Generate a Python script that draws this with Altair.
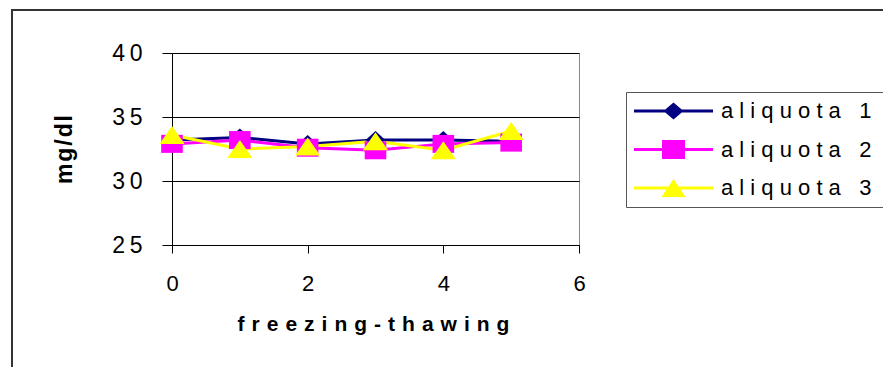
import altair as alt
import pandas as pd

# ---- data ----
cycles = [0, 1, 2, 3, 4, 5]
series_names = ["aliquota 1", "aliquota 2", "aliquota 3"]
aliquota_1 = [33.2, 33.4, 32.9, 33.2, 33.2, 33.1]
aliquota_2 = [32.9, 33.2, 32.6, 32.4, 32.9, 33.0]
aliquota_3 = [33.6, 32.5, 32.7, 33.1, 32.4, 33.9]
series_colors = ["#000080", "#FF00FF", "#FFFF00"]
x_ticks = [0, 2, 4, 6]
y_ticks = [25, 30, 35, 40]
x_title = "freezing-thawing"
y_title = "mg/dl"

rows = []
for i, (name, vals) in enumerate(zip(series_names, [aliquota_1, aliquota_2, aliquota_3])):
    for c, v in zip(cycles, vals):
        rows.append({"cycle": c, "value": v, "series": name, "marker": i})
df = pd.DataFrame(rows)

FONT = "Liberation Sans"
NBSP = "\u00a0"
THIN = "\u2009"
ZWSP = "\u200b"

# marker shapes (chart)
DIAMOND = "M0,-1L1.1,0L0,1L-1.1,0Z"
SQUARE = "M-1.2,-1H1.2V1H-1.2Z"
TRIANGLE = "M0,-1L1.4,1H-1.4Z"

# legend symbols: line + marker (unit = 10 px)
LINE = "M-3.95,-0.16H3.95V0.16H-3.95Z"
L_DIAMOND = LINE + "M0,-0.85L1,0L0,0.85L-1,0Z"
L_SQUARE = LINE + "M-1.15,-0.95H1.15V0.95H-1.15Z"
L_TRIANGLE = LINE + "M0,-0.9L1.2,0.9H-1.2Z"

color_scale = alt.Scale(domain=series_names, range=series_colors)

x_enc = alt.X(
    "cycle:Q",
    scale=alt.Scale(domain=[0, 6], nice=False),
    axis=alt.Axis(
        values=x_ticks, grid=False, tickSize=8, labelPadding=20,
        labelFontSize=22, labelFlush=False, labelFont=FONT,
        title="\u2004".join(x_title), titleFontSize=21, titleFontWeight="bold",
        titleFont=FONT, titleX=201, titleY=85, titleAlign="center",
        titleBaseline="alphabetic",
    ),
)
y_enc = alt.Y(
    "value:Q",
    scale=alt.Scale(domain=[25, 40], nice=False),
    axis=alt.Axis(
        values=y_ticks, grid=True, tickSize=10, labelPadding=20,
        labelFontSize=23, labelFont=FONT,
        labelExpr="join(split(datum.label, ''), '" + THIN + "')",
        title="\u200a".join(y_title), titleFontSize=23, titleFontWeight="bold",
        titleFont=FONT, titleAngle=270, titleX=-101, titleY=96,
        titleAlign="center", titleBaseline="alphabetic",
    ),
)

symbol_expr = (
    "datum.value === 'aliquota 1' ? '" + L_DIAMOND + "' : "
    "datum.value === 'aliquota 2' ? '" + L_SQUARE + "' : '" + L_TRIANGLE + "'"
)
fill_expr = (
    "datum.value === 'aliquota 1' ? '" + series_colors[0] + "' : "
    "datum.value === 'aliquota 2' ? '" + series_colors[1] + "' : '" + series_colors[2] + "'"
)

legend = alt.Legend(
    orient="none", legendX=454, legendY=39, title=None,
    labelFont=FONT, labelFontSize=22, labelColor="black",
    labelExpr="join(split(datum.label, ''), '" + NBSP + "') + '" + NBSP * 2 + ZWSP + "'",
    labelLimit=600, labelOffset=36.5,
    symbolSize=400, symbolStrokeWidth=0, symbolOffset=28.5,
    symbolType=alt.ExprRef(expr=symbol_expr),
    symbolFillColor=alt.ExprRef(expr=fill_expr),
    rowPadding=16.5, padding=8, strokeColor="#555555",
)

frame = alt.Chart(alt.Data(values=[{"k": 1}])).mark_rect(
    fill="transparent", stroke="#333333", strokeWidth=2
).encode(
    x=alt.value(-160), x2=alt.value(760), y=alt.value(-43), y2=alt.value(360)
)

lines = alt.Chart(df).mark_line(strokeWidth=3).encode(
    x=x_enc, y=y_enc,
    color=alt.Color("series:N", scale=color_scale, legend=legend),
)

points = alt.Chart(df).mark_point(
    filled=True, opacity=1, size=324, strokeWidth=0
).encode(
    x=x_enc, y=y_enc,
    color=alt.Color("series:N", scale=color_scale, legend=legend),
    shape=alt.Shape("marker:O", scale=alt.Scale(range=[DIAMOND, SQUARE, TRIANGLE]),
                    legend=None),
)

chart = alt.layer(frame, lines, points).properties(
    width=407, height=192,
    autosize=alt.AutoSizeParams(type="none"),
    padding={"left": 172, "top": 53, "right": 304, "bottom": 122},
    background="white",
).configure_axis(
    domainColor="black", tickColor="black", gridColor="black",
    labelColor="black", titleColor="black", domainWidth=1, gridWidth=1,
).configure_view(stroke="#888888", strokeWidth=1)

chart.save("out.html", embed_options={"renderer": "svg", "actions": False})
